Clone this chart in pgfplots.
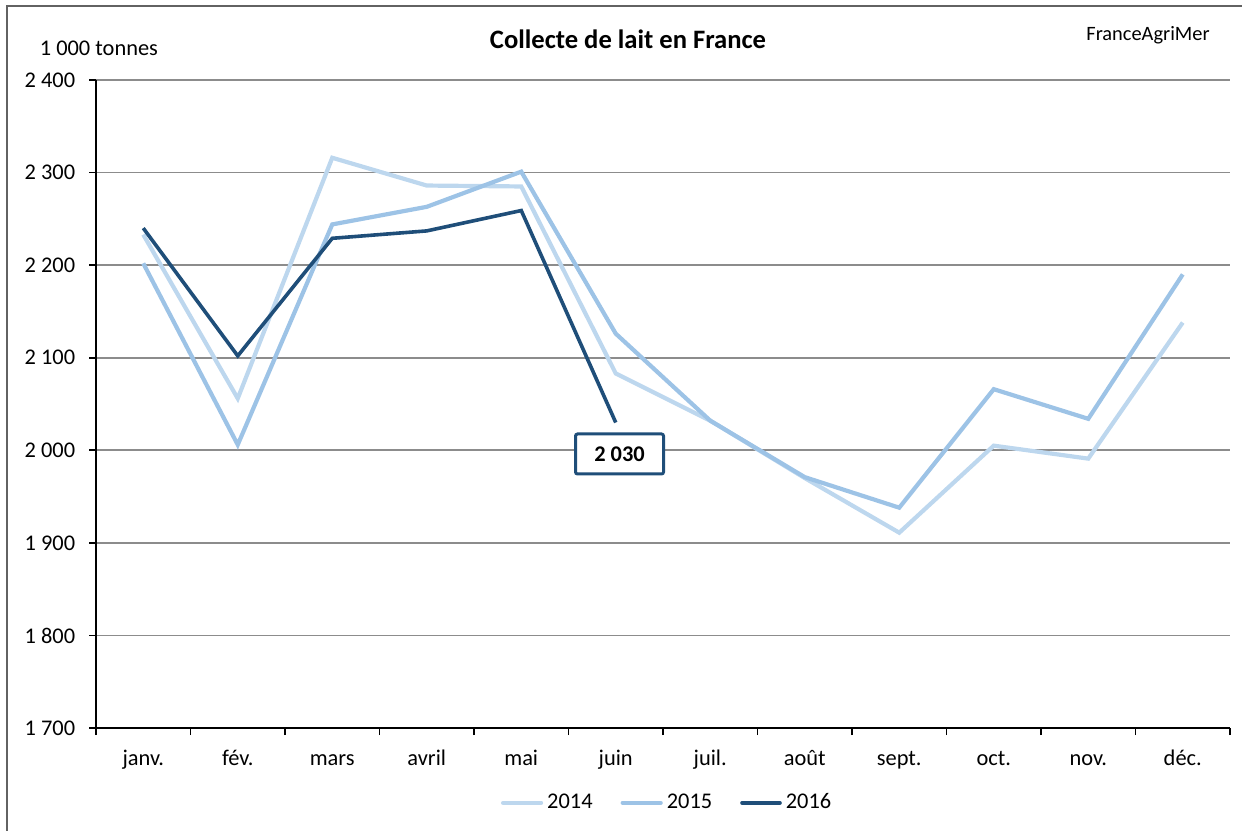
\documentclass[border=0pt]{standalone}
\usepackage{fontspec}
\setmainfont{Carlito}
\usepackage{pgfplots}
\pgfplotsset{compat=1.18}
\definecolor{cA}{HTML}{BDD7EE}
\definecolor{cB}{HTML}{9DC3E6}
\definecolor{cC}{HTML}{1F4E79}
\definecolor{gridc}{HTML}{8C8C8C}
\begin{document}
\fontsize{11.2}{13}\selectfont
\begin{tikzpicture}
\begin{axis}[
  scale only axis,
  width=567pt, height=324pt,
  xmin=-0.5, xmax=11.5,
  ymin=1700, ymax=2400,
  axis x line*=bottom, axis y line*=left,
  axis line style={line width=1pt, black},
  xtick={-0.5,0.5,...,11.5},
  x tick label as interval,
  xticklabels={janv.,fév.,mars,avril,mai,juin,juil.,août,sept.,oct.,nov.,déc.},
  ytick={1700,1800,...,2400},
  yticklabels={1 700,1 800,1 900,2 000,2 100,2 200,2 300,2 400},
  tick align=outside,
  major tick length=3.5pt,
  tick style={line width=0.8pt, black},
  ymajorgrids,
  grid style={gridc, line width=0.8pt},
  yticklabel style={font=\fontsize{11.2}{13}\selectfont, xshift=-3pt},
  xticklabel style={font=\fontsize{11.2}{13}\selectfont, text height=1.6ex, text depth=0.4ex, yshift=-3pt},
  legend style={at={(0.5045,-0.1155)}, anchor=center, draw=none,
     legend columns=3, font=\fontsize{11.2}{13}\selectfont,
     /tikz/every even column/.append style={column sep=12pt}},
  legend image code/.code={\draw[#1, line cap=round] (0pt,0pt) -- (19pt,0pt);},
]
\addplot[cA, line width=2.1pt] coordinates {
 (0,2233) (1,2056) (2,2316) (3,2286) (4,2285) (5,2083) (6,2032) (7,1970) (8,1911) (9,2005) (10,1991) (11,2138)};
\addlegendentry{2014}
\addplot[cB, line width=2.1pt] coordinates {
 (0,2202) (1,2006) (2,2244) (3,2263) (4,2301) (5,2126) (6,2032) (7,1971) (8,1938) (9,2066) (10,2034) (11,2190)};
\addlegendentry{2015}
\addplot[cC, line width=1.8pt] coordinates {
 (0,2240) (1,2102) (2,2229) (3,2237) (4,2259) (5,2030)};
\addlegendentry{2016}
\node[draw=cC, line width=1.5pt, rounded corners=1pt, fill=white,
  minimum width=44pt, minimum height=20pt, inner sep=0pt,
  font=\bfseries\fontsize{11.2}{13}\selectfont]
  at (axis cs:5.04,1996) {2 030};
\end{axis}
\node[anchor=west] at (-32pt,340pt) {1 000 tonnes};
\node[font=\bfseries\fontsize{13.3}{15}\selectfont] at (266pt,344.5pt) {Collecte de lait en France};
\node[font=\fontsize{10.2}{12}\selectfont] at (526pt,346.5pt) {FranceAgriMer};
\draw[gridc!70!black, line width=0.8pt] (-44.5pt,-60pt) -- (-44.5pt,361pt) -- (580pt,361pt);
\pgfresetboundingbox
\useasboundingbox (-48pt,-51pt) rectangle (573pt,364pt);
\end{tikzpicture}
\end{document}
